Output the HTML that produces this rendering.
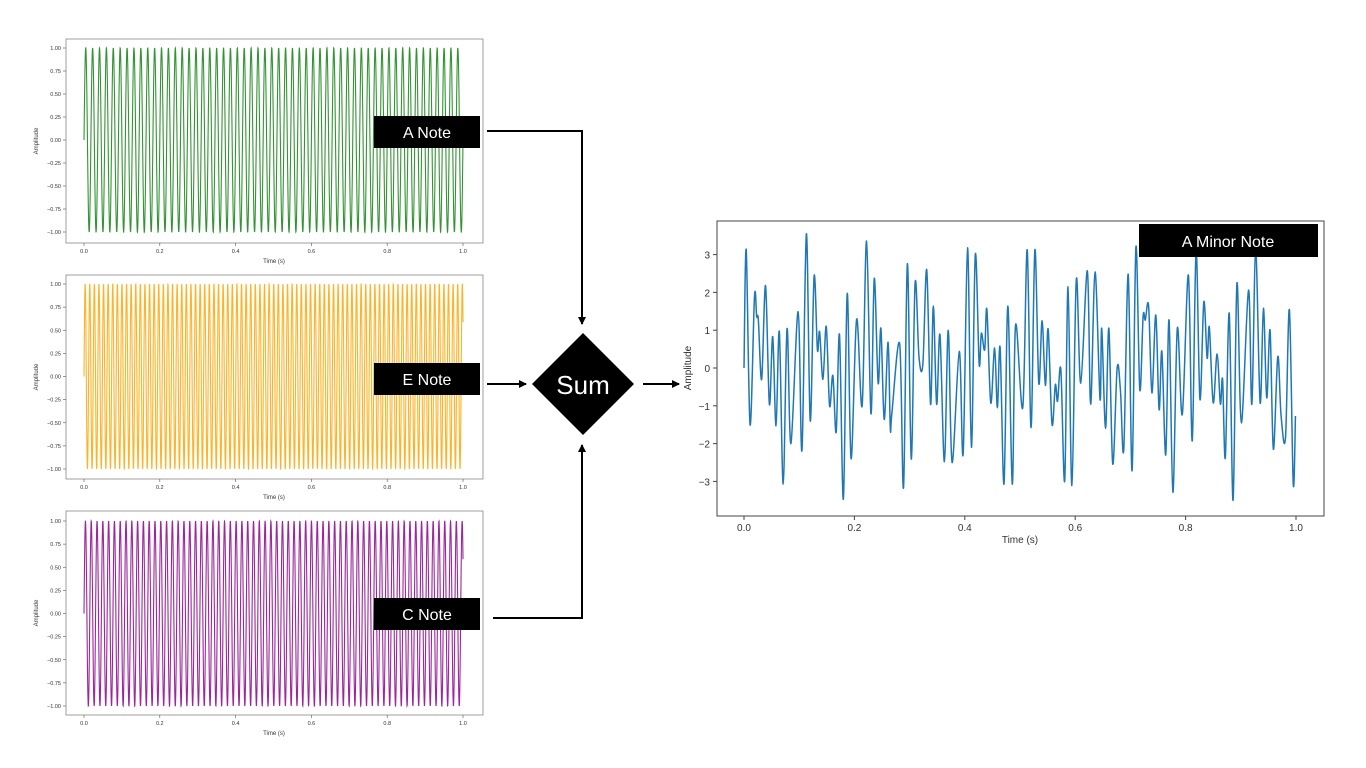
<!DOCTYPE html>
<html><head><meta charset="utf-8"><style>
body{margin:0;background:#fff;width:1366px;height:768px;overflow:hidden;font-family:"Liberation Sans",sans-serif}
svg{position:absolute;left:0;top:0}
</style></head><body>
<svg id="s" width="1366" height="768"></svg>
<script>
const noteNames=["A Note","E Note","C Note"];
const noteFreqs=[55,82.4,65.4];
const noteColors=["#108010","#ffa500","#8b008b"];
const smallXTicks=[0,0.2,0.4,0.6,0.8,1.0];
const smallYTicks=[1,0.75,0.5,0.25,0,-0.25,-0.5,-0.75,-1];
const sumTimes=[0,.004,.011,.019,.023,.026,.032,.039,.046,.052,.058,.064,.071,.078,.085,.098,.105,.113,.120,.127,.133,.137,.143,.149,.155,.161,.167,.173,.180,.187,.194,.204,.214,.222,.230,.236,.243,.248,.254,.261,.265,.268,.282,.289,.296,.303,.310,.317,.324,.331,.338,.343,.349,.355,.363,.370,.377,.390,.397,.405,.412,.419,.426,.430,.436,.440,.447,.454,.459,.464,.471,.478,.486,.492,.505,.513,.520,.527,.534,.540,.546,.551,.558,.564,.568,.574,.581,.587,.594,.602,.610,.622,.628,.636,.645,.648,.655,.661,.668,.676,.682,.688,.696,.703,.710,.717,.723,.727,.733,.739,.746,.752,.757,.764,.770,.777,.785,.794,.805,.812,.819,.826,.833,.839,.843,.850,.857,.863,.867,.872,.879,.886,.893,.901,.914,.920,.927,.935,.941,.947,.953,.959,.967,.973,.981,.988,.995,.999];
const sumValues=[0,3.13,-1.5,1.89,1.36,1.27,-0.3,2.18,-0.96,0.83,-1.53,0.96,-3.07,1.04,-2.0,1.49,-2.18,3.55,-1.4,2.43,0.48,0.96,-0.3,1.1,-1.0,-0.2,-1.7,0.88,-3.47,1.97,-2.4,1.29,-1.0,3.36,-1.21,2.37,-0.4,1.05,-1.36,0.68,-1.58,-1.18,0.64,-3.16,2.76,-2.41,2.25,0.3,0.1,2.6,-0.96,1.64,-0.96,0.88,-2.48,1.0,-2.5,0.44,-2.28,3.18,-2.1,3.0,0.11,0.92,0.48,1.55,-0.92,0.53,-1.05,0.54,-3.07,1.64,-3.07,1.14,-1.05,3.13,-1.58,3.13,-0.4,1.25,-0.46,1.03,-1.49,-0.44,-0.88,-0.04,-2.98,2.15,-3.11,2.34,-0.4,2.57,-0.96,2.54,-0.83,1.05,-1.6,1.05,-2.54,0,-0.6,-2.15,2.48,-2.72,3.2,-0.57,1.36,1.27,1.64,-0.66,1.4,-1.1,0.44,-2.3,1.27,-3.29,1.05,-1.23,2.46,-1.93,3.1,-0.83,1.75,0.26,1.08,-0.92,0.37,-0.95,-0.3,-2.37,1.45,-3.5,2.24,-1.45,2.06,-0.96,3.1,-0.92,1.58,-0.79,1.0,-2.15,0.3,-1.27,-1.84,1.54,-3.07,-1.27];
const sumXTicks=[0,0.2,0.4,0.6,0.8,1.0];
const sumYTicks=[3,2,1,0,-1,-2,-3];

const S=document.getElementById('s');const NS="http://www.w3.org/2000/svg";
function mk(t,a,p){const e=document.createElementNS(NS,t);for(const k in a)e.setAttribute(k,a[k]);(p||S).appendChild(e);return e;}
function txt(x,y,s,size,anchor,fill,p){const e=mk('text',{x:x,y:y,'font-size':size,'text-anchor':anchor||'middle',fill:fill||'#333'},p);e.textContent=s;return e;}

// small panels
const panelTops=[39,275,511];const p1=[48,284,521];const pm1=[232,469,706];
noteNames.forEach((nm,i)=>{
 const g=mk('g',{});
 
 
 const top=panelTops[i],bot=top+204;
 const X=t=>84+t*379, Y=v=>(p1[i]+pm1[i])/2-v*(pm1[i]-p1[i])/2;
 mk('rect',{x:66,y:top,width:417,height:204,fill:'#fff',stroke:'#888','stroke-width':0.8},g);
 let d='';const N=3000;
 for(let k=0;k<=N;k++){const t=k/N;const v=Math.sin(2*Math.PI*noteFreqs[i]*t);d+=(k?'L':'M')+X(t).toFixed(2)+' '+Y(v).toFixed(2);}
 const ln=mk('path',{d:d,fill:'none',stroke:noteColors[i],'stroke-width':1.1,opacity:0.85},g);
 
 
 smallXTicks.forEach(t=>{mk('line',{x1:X(t),x2:X(t),y1:bot,y2:bot+3,stroke:'#555','stroke-width':0.6},g);txt(X(t),bot+10,t.toFixed(1),5.5,'middle','#333',g);});
 smallYTicks.forEach(v=>{mk('line',{x1:63,x2:66,y1:Y(v),y2:Y(v),stroke:'#555','stroke-width':0.6},g);txt(61,Y(v)+2,v.toFixed(2).replace('-','−'),5.5,'end','#333',g);});
 txt(274,bot+20,'Time (s)',6,'middle','#333',g);
 const a=txt(0,0,'Amplitude',6,'middle','#333',g);a.setAttribute('transform','translate(38,'+((top+bot)/2)+') rotate(-90)');
});
// labels
const labelY=[116,363,598];
noteNames.forEach((nm,i)=>{
 const g=mk('g',{});
 
 
 mk('rect',{x:374,y:labelY[i],width:106,height:32,fill:'#000'},g);
 txt(427,labelY[i]+22,nm,16,'middle','#fff',g);
});
// arrows
mk('defs',{}).innerHTML='<marker id="ah" markerWidth="8" markerHeight="8" refX="7" refY="4" orient="auto" markerUnits="userSpaceOnUse"><path d="M0,0 L8,4 L0,8 z" fill="#000"/></marker>';
[['M487 131 L582 131 L582 324','arrow-a'],['M487 384 L526 384','arrow-e'],['M493 618 L582 618 L582 445','arrow-c'],['M643 384 L679 384','arrow-sum']].forEach(a=>{
 const e=mk('path',{d:a[0],fill:'none',stroke:'#000','stroke-width':2,'marker-end':'url(#ah)'});
 
 
});
const dg=mk('g',{});


mk('polygon',{points:'583,333 634,384 583,435 532,384',fill:'#000'},dg);
txt(583,394,'Sum',26,'middle','#fff',dg);

// big chart
const bg=mk('g',{});


const BX=t=>744+t*552, BY=v=>368-v*37.8;
mk('rect',{x:717,y:221,width:607,height:295,fill:'#fff',stroke:'#444','stroke-width':1},bg);
sumXTicks.forEach(t=>{mk('line',{x1:BX(t),x2:BX(t),y1:516,y2:520,stroke:'#444'},bg);txt(BX(t),531,t.toFixed(1),10,'middle','#333',bg);});
sumYTicks.forEach(v=>{mk('line',{x1:713,x2:717,y1:BY(v),y2:BY(v),stroke:'#444'},bg);txt(710,BY(v)+4,String(v).replace('-','−'),10,'end','#333',bg);});
txt(1020,543,'Time (s)',10,'middle','#333',bg);
const al=txt(0,0,'Amplitude',10,'middle','#333',bg);al.setAttribute('transform','translate(691,368) rotate(-90)');
const P=sumTimes.map((t,i)=>[BX(t),BY(sumValues[i])]);
let d='M'+P[0][0]+' '+P[0][1];
for(let i=0;i<P.length-1;i++){const p0=P[Math.max(0,i-1)],p1_=P[i],p2=P[i+1],p3=P[Math.min(P.length-1,i+2)];
 const c1=[p1_[0]+(p2[0]-p0[0])/6,p1_[1]+(p2[1]-p0[1])/6],c2=[p2[0]-(p3[0]-p1_[0])/6,p2[1]-(p3[1]-p1_[1])/6];
 d+=' C'+c1[0].toFixed(2)+' '+c1[1].toFixed(2)+' '+c2[0].toFixed(2)+' '+c2[1].toFixed(2)+' '+p2[0].toFixed(2)+' '+p2[1].toFixed(2);}
const sl=mk('path',{d:d,fill:'none',stroke:'#1f77b4','stroke-width':1.5},bg);


const lg=mk('g',{});


mk('rect',{x:1139,y:224,width:179,height:33,fill:'#000'},lg);
txt(1228,247,'A Minor Note',16,'middle','#fff',lg);
</script>
</body></html>
